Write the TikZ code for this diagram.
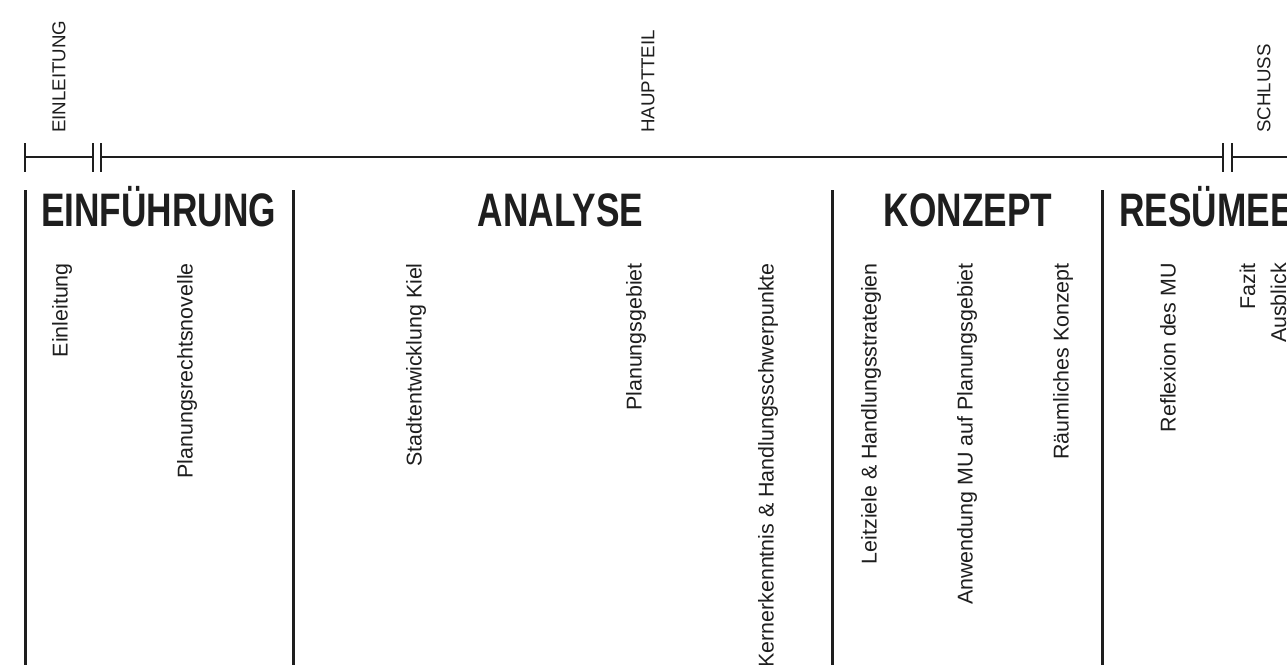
\documentclass[tikz,border=0pt]{standalone}
\usepackage{fontspec}
\setmainfont{Liberation Sans}
\newfontfamily\headfont{Liberation Sans}[FakeStretch=0.75]
\definecolor{ink}{HTML}{1E1E1E}
\begin{document}
\begin{tikzpicture}[x=1pt,y=-1pt,
  sep/.style={draw=ink, line width=3pt},
  axis/.style={draw=ink, line width=2pt},
  phase/.style={rotate=90, anchor=west, inner sep=0pt, text=ink, font=\fontsize{18.7}{22}\selectfont},
  item/.style={rotate=90, anchor=east, inner sep=0pt, text=ink, font=\fontsize{21.4}{31}\selectfont},
  head/.style={anchor=base, inner sep=0pt, text=ink, font=\headfont\bfseries\fontsize{47}{50}\selectfont}]
\clip (0,0) rectangle (1287,664);
\fill[white] (0,0) rectangle (1287,664);
% timeline
\coordinate (a0) at (25,157);
\coordinate (a1) at (93,157);
\coordinate (a2) at (101,157);
\coordinate (a3) at (1223,157);
\coordinate (a4) at (1232,157);
\coordinate (a5) at (1290,157);
\draw[axis] (a0) -- (a1);
\draw[axis] (a2) -- (a3);
\draw[axis] (a4) -- (a5);
\foreach \c in {a0,a1,a2,a3,a4}{
  \draw[axis] ([yshift=-14.5pt]\c) -- ([yshift=14.5pt]\c);
}
% phase labels
\node[phase] (p1) at (59,133) {EINLEITUNG};
\node[phase] (p2) at (648,133) {HAUPTTEIL};
\node[phase] (p3) at (1264,133) {SCHLUSS};
% separators
\draw[sep] (25,190) -- (25,666);
\draw[sep] (293,190) -- (293,666);
\draw[sep] (832,190) -- (832,666);
\draw[sep] (1102,190) -- (1102,666);
% headings
\node[head] (h1) at (158.5,226) {EINFÜHRUNG};
\node[head] (h2) at (560.5,226) {ANALYSE};
\node[head] (h3) at (968,226) {KONZEPT};
\node[head, anchor=base west] (h4) at (1119,226) {RESÜMEE};
% items
\node[item] (i1) at (62,263) {Einleitung};
\node[item] (i2) at (187,263) {Planungsrechtsnovelle};
\node[item] (i3) at (416,263) {Stadtentwicklung Kiel};
\node[item] (i4) at (636,263) {Planungsgebiet};
\node[item] (i5) at (768,263) {Kernerkenntnis \& Handlungsschwerpunkte};
\node[item] (i6) at (871,263) {Leitziele \& Handlungsstrategien};
\node[item] (i7) at (967,263) {Anwendung MU auf Planungsgebiet};
\node[item] (i8) at (1063,263) {Räumliches Konzept};
\node[item] (i9) at (1168,263) {Reflexion des MU};
\node[item, align=right] (i10) at (1263,263) {Fazit\\Ausblick};
\end{tikzpicture}
\end{document}
